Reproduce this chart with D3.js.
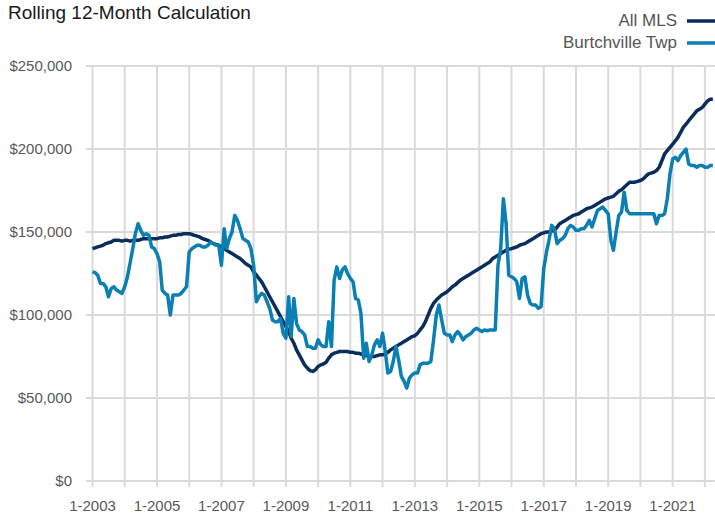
<!DOCTYPE html>
<html>
<head>
<meta charset="utf-8">
<script src="https://cdn.jsdelivr.net/npm/d3@7"></script>
<style>
  body { margin: 0; background: #fff; }
  svg { display: block; font-family: "Liberation Sans", Arial, sans-serif; }
</style>
</head>
<body>
<div id="chart"></div>
<script>
// monthly rolling 12-month values, 1-2003 .. 4-2022 (in $000s)
const startYear = 2003;
const seriesNames = ['All MLS', 'Burtchville Twp'];
const allMls = [
  140, 140.5, 141, 141.5, 142, 143, 143.5, 144, 145, 145, 145, 144.5,
  145, 145, 144.5, 145, 145, 145, 145.5, 146, 146, 146, 146, 146,
  146, 146.5, 146.5, 147, 147, 147.5, 148, 148, 148.5, 148.5, 149, 149,
  149, 148.5, 148, 147.5, 147, 146, 145.5, 145, 144, 143, 142.5, 142,
  141, 140, 139, 138, 137, 136, 135, 134, 132.5, 131, 130, 129,
  126, 124, 122, 120, 117, 114, 111, 108, 105, 102, 99, 96,
  93, 90, 86, 83, 79, 76, 73, 70, 68, 66.5, 66, 67,
  69, 70, 70.5, 71.5, 74, 76, 77, 77.5, 78, 78, 78, 78,
  77.5, 77.5, 77, 77, 76.5, 76, 75.5, 75, 75, 75, 75.5, 76,
  76, 76.5, 77.5, 79, 80, 81, 82, 83, 84, 85, 86, 87,
  87.5, 89, 91, 93, 96, 100, 104, 107, 109, 110.5, 112, 113,
  114, 115.5, 117, 118, 119.5, 121, 122, 123, 124, 125, 126, 127,
  128, 129, 130, 131, 132, 134, 135, 136, 137, 138, 139, 139.5,
  140, 140.5, 141, 142, 142.5, 143, 144, 145, 146, 147, 148, 149,
  149.5, 150, 150, 150.5, 151, 153, 155, 156, 157, 158, 159, 160,
  160.5, 161, 162, 163, 164, 164.5, 165, 166, 167, 168, 169, 170,
  170.5, 171, 171.5, 173, 174.5, 175.5, 177, 178.5, 180, 180, 180, 180.5,
  181, 182, 183.5, 185, 185.5, 186, 187, 189, 193, 197, 199, 201,
  203, 205, 207, 210, 213, 215, 217, 219, 221, 223, 224, 225,
  227, 229, 230, 230
];
const burtchville = [
  126, 125.5, 124, 119, 119, 117, 111, 116, 117, 115, 114, 113,
  117, 123, 131, 140, 149, 155, 151, 148, 149, 148, 141, 140,
  137, 132, 115, 113, 112, 100, 112, 112, 112, 113, 115, 117,
  138, 140, 141, 142, 142, 141, 141, 142, 144, 143, 142, 142,
  130, 152, 140, 146, 150, 160, 157, 152, 146, 145, 144, 140,
  130, 108, 111, 113, 112, 108, 104, 97, 96, 96, 98, 89,
  86, 111, 87, 110, 95, 91, 90, 88, 81, 81, 80, 80,
  85, 82, 81, 81, 96, 81, 121, 129, 122, 127, 129, 125,
  122, 120, 110, 109, 101, 74, 83, 72, 76, 82, 85, 81,
  89, 78, 65, 66, 72, 81, 73, 63, 60, 56, 62, 64,
  65, 65, 70, 71, 71, 71, 72, 85, 100, 106, 97, 89,
  88, 88, 84, 88, 90, 88, 85, 87, 88, 89, 91, 92,
  91, 90, 91, 90.5, 91, 91, 91, 130, 140, 170, 155, 124,
  123, 122, 120, 110, 122, 123, 112, 107, 106, 106, 104, 105,
  128, 138, 145, 154, 152, 143, 145, 146, 148, 152, 154, 153,
  151, 151, 152, 152, 154, 157, 153, 158, 163, 164, 165, 163,
  161, 145, 139, 150, 160, 162, 174, 163, 161, 161, 161, 161,
  161, 161, 161, 161, 161, 161, 155, 160, 160, 161, 170, 185,
  194, 195, 193, 196, 198, 200, 191, 190, 190, 189, 190, 190,
  189, 189, 190, 190
];
const yTicks = [0, 50000, 100000, 150000, 200000, 250000];
const xLabelYears = [2003, 2005, 2007, 2009, 2011, 2013, 2015, 2017, 2019, 2021];

const W = 715, H = 515;
const colors = ['#0b2d5c', '#0a7fb3'];

const months = allMls.map((d, i) => new Date(startYear, i, 1));

const svg = d3.select('#chart').append('svg')
  .attr('width', W).attr('height', H);

const x = d3.scaleTime()
  .domain([new Date(2003, 0, 1), new Date(2021, 0, 1)])
  .range([92.5, 672.7]);

const y = d3.scaleLinear()
  .domain([0, 250000])
  .range([481, 66]);

// vertical grid (one per year)
const gridYears = d3.range(2003, 2024).map(yr => new Date(yr, 0, 1));
svg.append('g')
  .selectAll('line')
  .data(gridYears)
  .enter()
  .append('line')
  .attr('x1', d => x(d)).attr('x2', d => x(d))
  .attr('y1', y(250000)).attr('y2', y(0) + 6)
  .attr('stroke', '#dadada').attr('stroke-width', 2);

// horizontal grid + y labels
const yAxis = svg.append('g');
yAxis.selectAll('line')
  .data(yTicks)
  .enter()
  .append('line')
  .attr('x1', 86).attr('x2', W)
  .attr('y1', d => y(d)).attr('y2', d => y(d))
  .attr('stroke', '#dadada').attr('stroke-width', 2);
yAxis.selectAll('text')
  .data(yTicks)
  .enter()
  .append('text')
  .attr('x', 72)
  .attr('y', d => y(d))
  .attr('dy', '0.35em')
  .attr('text-anchor', 'end')
  .attr('font-size', 15)
  .attr('fill', '#595959')
  .text(d => '$' + d3.format(',')(d));

// x labels
svg.append('g')
  .selectAll('text')
  .data(xLabelYears)
  .enter()
  .append('text')
  .attr('x', d => x(new Date(d, 0, 1)))
  .attr('y', 511)
  .attr('text-anchor', 'middle')
  .attr('font-size', 15)
  .attr('fill', '#595959')
  .text(d => '1-' + d);

// lines
const line = d3.line()
  .x((d, i) => x(months[i]))
  .y(d => y(d * 1000));

[allMls, burtchville].forEach((s, k) => {
  svg.append('path')
    .datum(s)
    .attr('d', line)
    .attr('fill', 'none')
    .attr('stroke', colors[k])
    .attr('stroke-width', 3.5)
    .attr('stroke-linejoin', 'round');
});

// title
svg.append('text')
  .attr('x', 8).attr('y', 19)
  .attr('font-size', 19)
  .attr('fill', '#1a1a1a')
  .text('Rolling 12-Month Calculation');

// legend
const legend = svg.append('g');
seriesNames.forEach((name, k) => {
  const ly = 20 + k * 22;
  legend.append('text')
    .attr('x', 677).attr('y', ly)
    .attr('dy', '0.35em')
    .attr('text-anchor', 'end')
    .attr('font-size', 17)
    .attr('fill', '#555')
    .text(name);
  legend.append('line')
    .attr('x1', 687).attr('x2', W)
    .attr('y1', ly + 1).attr('y2', ly + 1)
    .attr('stroke', colors[k]).attr('stroke-width', 3.5);
});
</script>
</body>
</html>
